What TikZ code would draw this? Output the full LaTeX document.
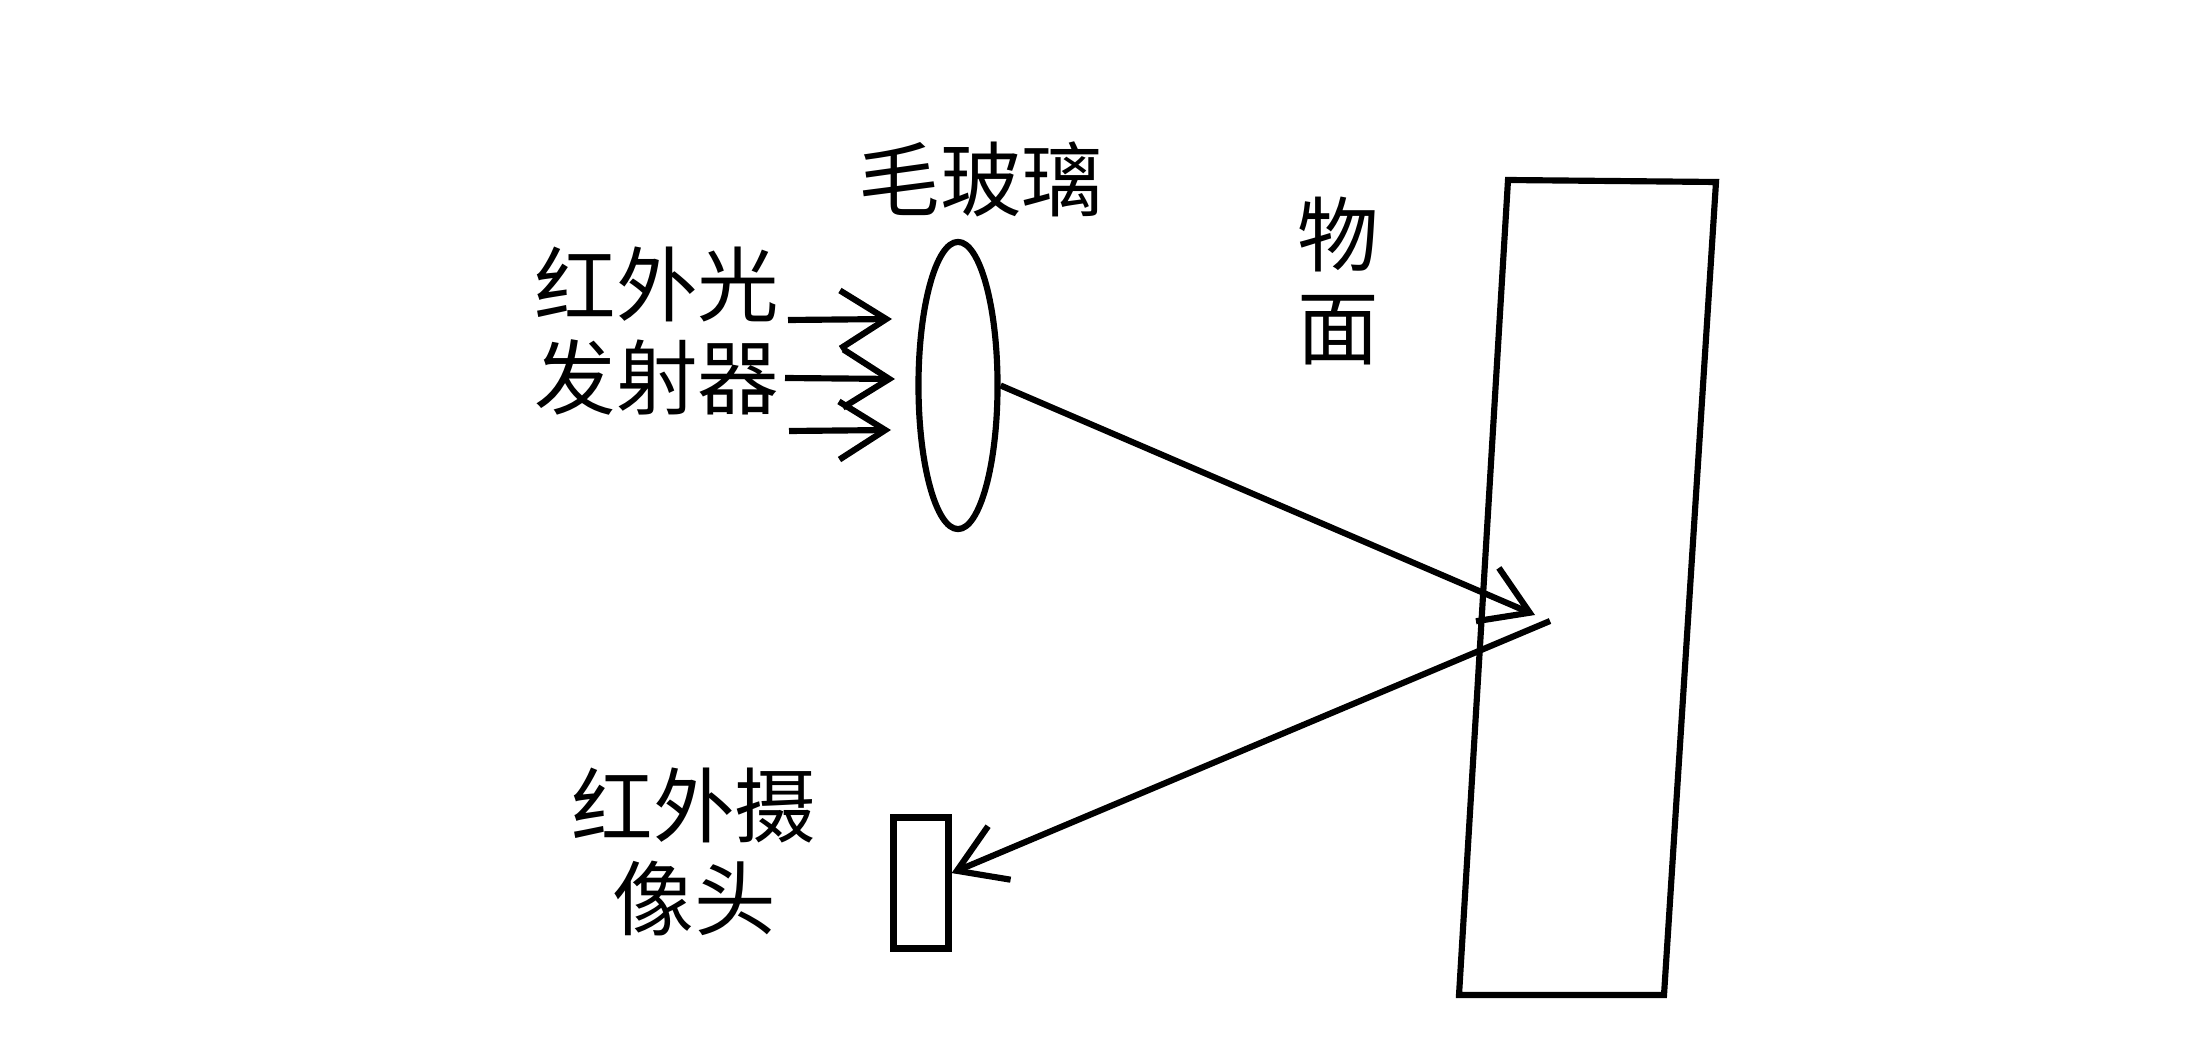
\documentclass[tikz,border=0pt]{standalone}
\usepackage{fontspec}
\newfontfamily\cjk{Noto Sans CJK SC}
\usetikzlibrary{arrows.meta,shapes.geometric}

\begin{document}
\begin{tikzpicture}[x=0.01cm,y=-0.01cm,line width=1.75pt,
    main_label/.style={align=center,inner sep=0pt,font=\cjk\fontsize{23.2}{26.4}\selectfont},
    glass_node/.style={ellipse,draw,minimum width=0.79cm,minimum height=2.87cm,inner sep=0pt},
    camera_node/.style={rectangle,draw,minimum width=0.55cm,minimum height=1.31cm,inner sep=0pt},
    ray/.style={-{Straight Barb[length=0.46cm,width=0.58cm]}}]

    \useasboundingbox (0,0) rectangle (2191,1052);

    \node[main_label] (glass_label) at (981,179) {毛玻璃};
    \node[main_label] (emitter_label) at (657,331) {红外光\\发射器};
    \node[main_label] (camera_label) at (694,852) {红外摄\\像头};
    \node[main_label] (object_label) at (1338,281) {物\\面};

    \node[glass_node] (glass) at (958,385.5) {};
    \node[camera_node] (camera) at (921,883) {};

    \coordinate (a1) at (788,320);
    \coordinate (b1) at (892,319);
    \coordinate (a2) at (785,378);
    \coordinate (b2) at (895,379);
    \coordinate (a3) at (789,431);
    \coordinate (b3) at (891,430);
    \coordinate (hit) at (1535,615);
    \coordinate (back) at (1550,621);

    \coordinate (p1) at (1508,180);
    \coordinate (p2) at (1716,182);
    \coordinate (p3) at (1664,995);
    \coordinate (p4) at (1459,995);

    \draw (p1) -- (p2) -- (p3) -- (p4) -- cycle;

    \path
    (a1) edge[ray] (b1)
    (a2) edge[ray] (b2)
    (a3) edge[ray] (b3)
    (glass.east) edge[ray] (hit)
    (back) edge[ray] (camera.18);
\end{tikzpicture}
\end{document}
